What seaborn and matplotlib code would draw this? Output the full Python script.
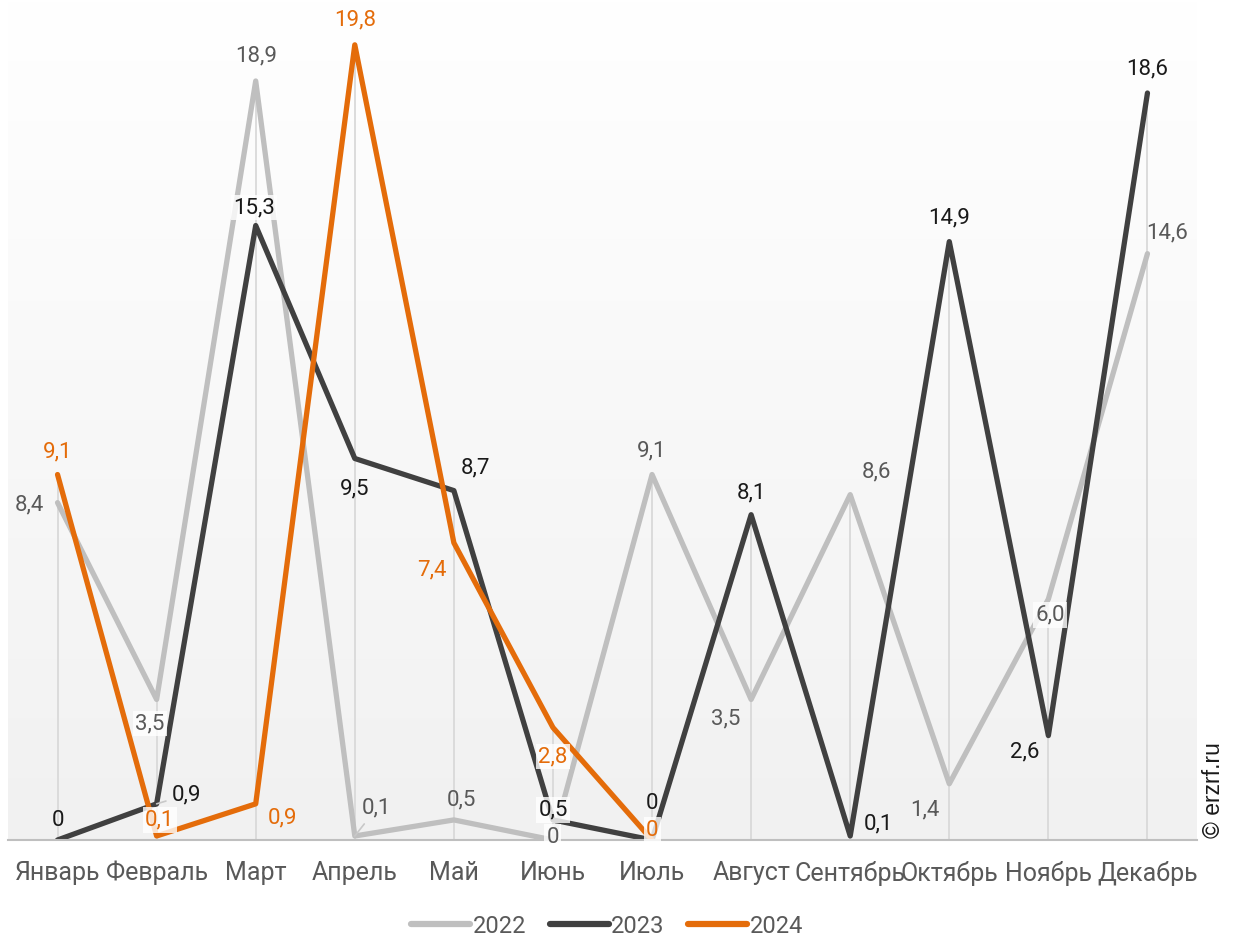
import numpy as np
import pandas as pd
import matplotlib
import matplotlib.pyplot as plt
from matplotlib.lines import Line2D
import seaborn as sns

matplotlib.use("Agg")

# ── Data ──────────────────────────────────────────────────────────────────────
months = ["Январь", "Февраль", "Март", "Апрель", "Май", "Июнь",
          "Июль", "Август", "Сентябрь", "Октябрь", "Ноябрь", "Декабрь"]
vals_2022 = [8.4, 3.5, 18.9, 0.1, 0.5, 0.0, 9.1, 3.5, 8.6, 1.4, 6.0, 14.6]
vals_2023 = [0.0, 0.9, 15.3, 9.5, 8.7, 0.5, 0.0, 8.1, 0.1, 14.9, 2.6, 18.6]
vals_2024 = [9.1, 0.1, 0.9, 19.8, 7.4, 2.8, 0.0]
years = ["2022", "2023", "2024"]

# ── Styling ───────────────────────────────────────────────────────────────────
COLORS = {"2022": "#bfbfbf", "2023": "#404040", "2024": "#e46c0a"}
LABEL_COLORS = {"2022": "#595959", "2023": "#1a1a1a", "2024": "#e46c0a"}

# label offsets (pixels) from each point
OFFSETS = {
    "2022": [(-28, -2), (-7, -24), (0, 25), (22, 28), (8, 20), (0, 3),
             (0, 24), (-25, -19), (26, 23), (-24, -26), (2, -16), (20, 21)],
    "2023": [(0, 20), (30, 9), (-2, 18), (0, -30), (22, 23), (0, 10),
             (0, 37), (0, 22), (28, 12), (0, 24), (-24, -16), (0, 24)],
    "2024": [(0, 23), (3, 16), (27, -14), (0, 25), (-22, -27), (0, -29), (0, 10)],
}
# labels sitting on a white box / labels with a leader line
BOXED = {("2022", 1), ("2022", 5), ("2022", 10), ("2023", 2), ("2023", 5),
         ("2024", 1), ("2024", 5), ("2024", 6)}
LEADER = {("2022", 3), ("2023", 1)}

sns.set_style("white")
plt.rcParams["font.family"] = ["Roboto", "DejaVu Sans"]

rows = []
for year, vals in zip(years, [vals_2022, vals_2023, vals_2024]):
    for i, v in enumerate(vals):
        rows.append({"month": i, "value": v, "year": year})
df = pd.DataFrame(rows)

fig = plt.figure(figsize=(12.4, 9.38), dpi=100)
ax = fig.add_axes([8 / 1240, 98 / 938, 1189 / 1240, 840 / 938])

YMAX = 840 / 40.16
ax.set_xlim(-0.5, 11.5)
ax.set_ylim(0, YMAX)

# gradient background: white on top, light grey at the bottom
grad = np.linspace(0, 1, 256).reshape(-1, 1)
ax.imshow(grad, extent=(-0.5, 11.5, 0, YMAX), aspect="auto", origin="lower",
          cmap=matplotlib.colors.LinearSegmentedColormap.from_list(
              "bg", ["#f1f1f1", "#ffffff"]), vmin=0, vmax=1, zorder=0)

# drop lines from the highest point of each month down to the axis
tops = df.groupby("month")["value"].max()
ax.vlines(tops.index, 0, tops.values, color="#d9d9d9", lw=1.3, zorder=1)

sns.lineplot(data=df, x="month", y="value", hue="year", palette=COLORS,
             hue_order=years, sort=False, linewidth=3.8, legend=False, ax=ax,
             zorder=3)
for line in ax.lines[-3:]:
    line.set_solid_joinstyle("round")
    line.set_solid_capstyle("round")

def fmt(v):
    return "0" if v == 0 else f"{v:.1f}".replace(".", ",")

for year, vals in zip(years, [vals_2022, vals_2023, vals_2024]):
    for i, v in enumerate(vals):
        dx, dy = OFFSETS[year][i]
        bbox = None
        if (year, i) in BOXED:
            bbox = dict(boxstyle="square,pad=0.1", fc="white", ec="none", alpha=0.8)
        arrow = None
        if (year, i) in LEADER:
            arrow = dict(arrowstyle="-", color="#c8c8c8", lw=1.2,
                         shrinkA=2, shrinkB=0)
        ax.annotate(fmt(v), (i, v), xytext=(dx, dy), textcoords="offset pixels",
                    ha="center", va="center", fontsize=16,
                    color=LABEL_COLORS[year], bbox=bbox, arrowprops=arrow,
                    zorder=5)

# axis / ticks
for s in ["top", "left", "right"]:
    ax.spines[s].set_visible(False)
ax.spines["bottom"].set_color("#bfbfbf")
ax.spines["bottom"].set_linewidth(1.5)
ax.spines["bottom"].set_zorder(4)
ax.set_yticks([])
ax.set_xticks(np.arange(-0.5, 12, 1))
ax.set_xticklabels([])
ax.set_xticks(np.arange(12), minor=True)
ax.set_xticklabels(months, minor=True)
ax.tick_params(axis="x", which="major", length=8, width=1.5, color="#bfbfbf",
               direction="out")
ax.tick_params(axis="x", which="minor", length=0, pad=15, labelsize=18,
               labelcolor="#595959")
ax.set_xlabel("")
ax.set_ylabel("")

# legend
handles = [Line2D([0], [0], color=COLORS[y], lw=4.5, solid_capstyle="round")
           for y in years]
fig.legend(handles, years, loc="center", bbox_to_anchor=(607 / 1240, 1 - 926 / 938),
           ncol=3, frameon=False, fontsize=17, handlelength=2.5,
           handletextpad=0.1, columnspacing=1.0, labelcolor="#595959")

fig.text(1213 / 1240, 1 - 790 / 938, "© erzrf.ru", rotation=90, ha="center",
         va="center", fontsize=16.5, color="#1a1a1a",
         family=["Liberation Sans", "DejaVu Sans"])

fig.savefig("out.png", dpi=100)
